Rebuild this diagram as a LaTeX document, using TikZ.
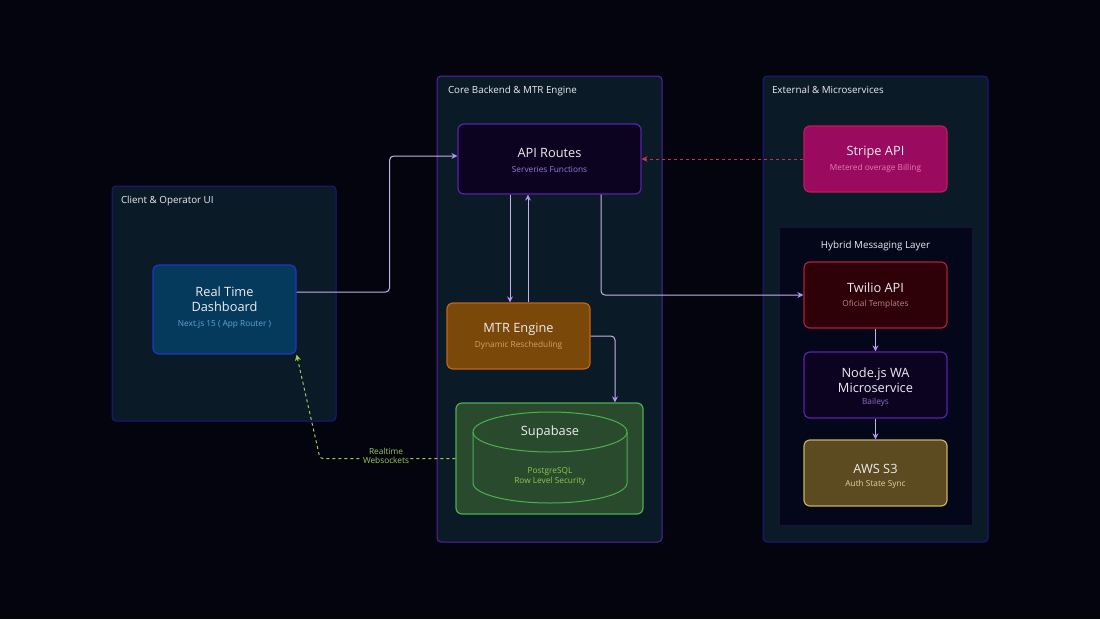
\documentclass[tikz,border=0pt]{standalone}
\usepackage{fontspec}
\setmainfont{Open Sans}
\usetikzlibrary{arrows.meta, positioning, calc}
\definecolor{bgdark}{HTML}{04040F}
\definecolor{grpfill}{HTML}{0A1A26}
\definecolor{grpblue}{HTML}{1A1A8A}
\definecolor{grppurple}{HTML}{5A20B0}
\definecolor{layerfill}{HTML}{04061A}
\definecolor{layerline}{HTML}{141440}
\definecolor{txtwhite}{HTML}{EDEDF2}
\definecolor{linelav}{HTML}{C4B4E6}
\definecolor{tiplav}{HTML}{B394F2}
% node palettes
\definecolor{dashfill}{HTML}{053A5C}
\definecolor{dashline}{HTML}{2233CC}
\definecolor{dashsub}{HTML}{5AA6D6}
\definecolor{apifill}{HTML}{0B0320}
\definecolor{apisub}{HTML}{9C7BE0}
\definecolor{mtrfill}{HTML}{7A4808}
\definecolor{mtrline}{HTML}{C0651C}
\definecolor{mtrsub}{HTML}{D9A066}
\definecolor{supafill}{HTML}{2A4A2E}
\definecolor{supaline}{HTML}{4CAF50}
\definecolor{supasub}{HTML}{8CC84B}
\definecolor{stripefill}{HTML}{9A0A5E}
\definecolor{stripeline}{HTML}{C2185B}
\definecolor{stripesub}{HTML}{E47CB6}
\definecolor{twiliofill}{HTML}{2E0008}
\definecolor{twilioline}{HTML}{B0203A}
\definecolor{twiliosub}{HTML}{C48290}
\definecolor{wasub}{HTML}{8B6CC8}
\definecolor{awsfill}{HTML}{5C4A20}
\definecolor{awsline}{HTML}{C8B060}
\definecolor{awssub}{HTML}{E2D4A4}
\definecolor{stripedash}{HTML}{C8304E}
\definecolor{wsgreen}{HTML}{9ACD5A}

\begin{document}
\begin{tikzpicture}[
  x=1pt, y=-1pt,
  >={Stealth[length=6pt, width=6pt, color=tiplav]},
  group/.style={draw=#1, line width=1pt, fill=grpfill, rounded corners=4pt},
  grplbl/.style={font=\fontsize{9.8}{11}\selectfont, text=txtwhite, anchor=north west},
  box/.style={draw=#1, line width=1.2pt, rounded corners=6pt, align=center,
    text=txtwhite, font=\fontsize{12.8}{14.5}\selectfont, inner sep=0pt},
  sub/.style={font=\fontsize{8.3}{10}\selectfont, text=#1},
  arr/.style={->, line width=1pt, linelav, rounded corners=4pt},
]

% Background
\fill[bgdark] (0,0) rectangle (1100,619);
\useasboundingbox (0,0) rectangle (1100,619);

% === Groups ===
\node[group=grpblue, minimum width=224pt, minimum height=235pt] (client) at (224,303.5) {};
\node[grplbl] (clientlbl) at ([xshift=6pt, yshift=-7pt]client.north west) {Client \& Operator UI};

\node[group=grppurple, minimum width=225pt, minimum height=466pt] (core) at (549.5,309) {};
\node[grplbl] (corelbl) at ([xshift=8pt, yshift=-7pt]core.north west) {Core Backend \& MTR Engine};

\node[group=grpblue, minimum width=225pt, minimum height=466pt] (ext) at (875.5,309) {};
\node[grplbl] (extlbl) at ([xshift=6pt, yshift=-7pt]ext.north west) {External \& Microservices};

\node[draw=layerline, line width=1pt, fill=layerfill, minimum width=193pt,
  minimum height=298pt] (layer) at (875.5,376) {};
\node[grplbl, anchor=north] (layerlbl) at ([yshift=-11pt]layer.north) {Hybrid Messaging Layer};

% === Client ===
\node[box=dashline, fill=dashfill, minimum width=143pt, minimum height=89pt] (dash) at (224.5,309.5) {};
\node[box=dashline, draw=none, fill=none] (dashttl) at (224.5,299) {Real Time\\Dashboard};
\node[sub=dashsub] (dashsubt) at (224.5,324) {Next.js 15 ( App Router )};

% === Core ===
\node[box=grppurple, fill=apifill, minimum width=183pt, minimum height=70pt] (api) at (549.5,159) {};
\node[box=grppurple, draw=none, fill=none] (apittl) at (549.5,153) {API Routes};
\node[sub=apisub] (apisubt) at (549.5,169) {Serveries Functions};

\node[box=mtrline, fill=mtrfill, minimum width=143pt, minimum height=66pt] (mtr) at (518.5,336) {};
\node[box=mtrline, draw=none, fill=none] (mtrttl) at (518.5,329) {MTR Engine};
\node[sub=mtrsub] (mtrsubt) at (518.5,345) {Dynamic Rescheduling};

\node[box=supaline, fill=supafill, minimum width=187pt, minimum height=111pt] (supa) at (549.5,458.5) {};
% cylinder
\draw[supaline, line width=1pt] (550,432) ellipse [x radius=77, y radius=20];
\draw[supaline, line width=1pt] (473,432) -- (473,483)
  arc[start angle=180, end angle=0, x radius=77, y radius=20] -- (627,432);
\node[box=supaline, draw=none, fill=none] (supattl) at (550,432) {Supabase};
\node[sub=supasub, align=center] (supasubt) at (550,476) {PostgreSQL\\Row Level Security};

% === External ===
\node[box=stripeline, fill=stripefill, minimum width=143pt, minimum height=66pt] (stripe) at (875.5,159) {};
\node[box=stripeline, draw=none, fill=none] (stripettl) at (875.5,152) {Stripe API};
\node[sub=stripesub] (stripesubt) at (875.5,168) {Metered overage Billing};

\node[box=twilioline, fill=twiliofill, minimum width=143pt, minimum height=66pt] (twilio) at (875.5,295) {};
\node[box=twilioline, draw=none, fill=none] (twiliottl) at (875.5,288) {Twilio API};
\node[sub=twiliosub] (twiliosubt) at (875.5,304) {Oficial Templates};

\node[box=grppurple, fill=apifill, minimum width=143pt, minimum height=66pt] (wa) at (875.5,385) {};
\node[box=grppurple, draw=none, fill=none] (wattl) at (875.5,380) {Node.js WA\\Microservice};
\node[sub=wasub] (wasubt) at (875.5,402) {Baileys};

\node[box=awsline, fill=awsfill, minimum width=143pt, minimum height=66pt] (aws) at (875.5,473) {};
\node[box=awsline, draw=none, fill=none] (awsttl) at (875.5,469) {AWS S3};
\node[sub=awssub] (awssubt) at (875.5,484) {Auth State Sync};

% === Connectors ===
\draw[arr] ([yshift=17.5pt]dash.east) -- ++(93,0) |- ([yshift=3pt]api.west);
\draw[line width=1pt, stripedash, dash pattern=on 3pt off 3pt,
  -{Stealth[length=6pt, width=6pt]}] (stripe.west) -- (api.east);
\draw[arr] ([xshift=-39.5pt]api.south) -- ([xshift=-8.5pt]mtr.north);
\draw[arr] ([xshift=9.5pt]mtr.north) -- ([xshift=-21.5pt]api.south);
\draw[arr] ([xshift=51.5pt]api.south) |- (twilio.west);
\draw[arr] (mtr.east) -| ([xshift=65.5pt]supa.north);
\draw[arr] (twilio.south) -- (wa.north);
\draw[arr] (wa.south) -- (aws.north);

\coordinate (wsbend) at (320,458.5);
\draw[line width=1pt, wsgreen, dash pattern=on 3pt off 3pt, rounded corners=3pt,
  -{Stealth[length=6pt, width=6pt]}] (supa.west) -- (wsbend) -- (dash.south east);
\node[fill=bgdark, inner sep=1.5pt, align=center, text=wsgreen,
  font=\fontsize{8.3}{9.5}\selectfont] (wslbl) at (386,456) {Realtime\\Websockets};

\end{tikzpicture}
\end{document}
